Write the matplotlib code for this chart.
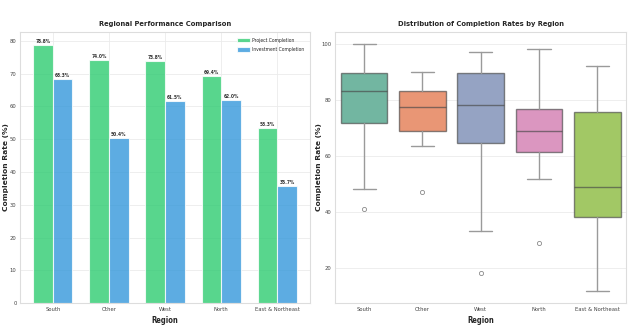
import matplotlib
matplotlib.use("Agg")
import matplotlib.pyplot as plt
import numpy as np
import seaborn as sns

regions = ["South", "Other", "West", "North", "East & Northeast"]
project_completion = [78.8, 74.0, 73.8, 69.4, 53.3]
investment_completion = [68.3, 50.4, 61.5, 62.0, 35.7]

# box statistics
box_whislo = [48.1, 63.4, 33.2, 51.8, 11.7]
box_q1 = [71.8, 68.8, 64.6, 61.4, 38.1]
box_med = [83.2, 77.4, 78.1, 68.9, 48.9]
box_q3 = [89.5, 83.0, 89.5, 76.8, 75.7]
box_whishi = [100.0, 89.9, 97.1, 98.3, 92.1]
box_fliers = [[41.0], [46.9], [18.0], [28.8], []]

sns.set_style("whitegrid")
plt.rcParams["font.family"] = ["DejaVu Sans"]
plt.rcParams["font.stretch"] = "condensed"

fig = plt.figure(figsize=(6.35, 3.34), dpi=100)
ax1 = fig.add_axes([0.0315, 0.092, 0.457, 0.813])
ax2 = fig.add_axes([0.5276, 0.092, 0.459, 0.813])

grid_c = "#ebebeb"
spine_c = "#dddddd"
tick_fs = 4.2

# ---- left: grouped bars
x = np.arange(len(regions))
w = 0.35
b1 = ax1.bar(x - w / 2, project_completion, w, color="#2ecc71", alpha=0.8,
             edgecolor="white", linewidth=0.8, label="Project Completion")
b2 = ax1.bar(x + w / 2, investment_completion, w, color="#3498db", alpha=0.8,
             edgecolor="white", linewidth=0.8, label="Investment Completion")
for bars in (b1, b2):
    for r in bars:
        ax1.text(r.get_x() + r.get_width() / 2, r.get_height() + 0.3,
                 f"{r.get_height():.1f}%", ha="center", va="bottom",
                 fontsize=3.5, fontweight="bold", color="#333333")
ax1.set_xticks(x)
ax1.set_xticklabels(regions)
ax1.set_title("Regional Performance Comparison", fontsize=5.4, fontweight="bold", pad=4)
ax1.set_xlabel("Region", fontsize=5.5, fontweight="bold", labelpad=3)
ax1.set_ylabel("Completion Rate (%)", fontsize=5.4, fontweight="bold",
               fontstretch="normal")
ax1.yaxis.set_label_coords(-0.039, 0.5)
leg = ax1.legend(loc="upper right", fontsize=3.6, frameon=False,
                 handlelength=2.6, handleheight=0.9, labelspacing=0.9,
                 handletextpad=0.5, borderaxespad=0.8)

# ---- right: box plot
stats = []
for i, r in enumerate(regions):
    stats.append(dict(label=r, whislo=box_whislo[i], q1=box_q1[i], med=box_med[i],
                      q3=box_q3[i], whishi=box_whishi[i], fliers=box_fliers[i]))
pal = sns.color_palette("Set2", 5, desat=0.75)
edge = (0.28, 0.28, 0.28, 0.65)
bp = ax2.bxp(stats, positions=x, widths=0.8, patch_artist=True,
             showfliers=True,
             boxprops=dict(edgecolor=edge, linewidth=1.0),
             medianprops=dict(color=edge, linewidth=1.0),
             whiskerprops=dict(color="#9a9a9a", linewidth=1.0),
             capprops=dict(color="#9a9a9a", linewidth=1.0),
             capwidths=0.4,
             flierprops=dict(marker="o", markersize=3, markerfacecolor="none",
                             markeredgecolor="#8a8a8a", markeredgewidth=0.6))
for patch, c in zip(bp["boxes"], pal):
    patch.set_facecolor(c)
ax2.set_xlim(-0.5, 4.5)
ax2.set_ylim(7.3, 104.3)
ax2.set_yticks([20, 40, 60, 80, 100])
ax2.set_title("Distribution of Completion Rates by Region", fontsize=5.4,
              fontweight="bold", pad=4)
ax2.set_xlabel("Region", fontsize=5.5, fontweight="bold", labelpad=3)
ax2.set_ylabel("Completion Rate (%)", fontsize=5.4, fontweight="bold",
               fontstretch="normal")
ax2.yaxis.set_label_coords(-0.044, 0.5)

for ax in (ax1, ax2):
    ax.tick_params(axis="both", labelsize=tick_fs, colors="#444444", pad=2.5, length=0)
    ax.grid(True, color=grid_c, linewidth=0.6)
    for s in ax.spines.values():
        s.set_color(spine_c)
        s.set_linewidth(0.8)
    ax.set_axisbelow(True)
ax2.xaxis.grid(False)

fig.savefig("out.png", dpi=100)
